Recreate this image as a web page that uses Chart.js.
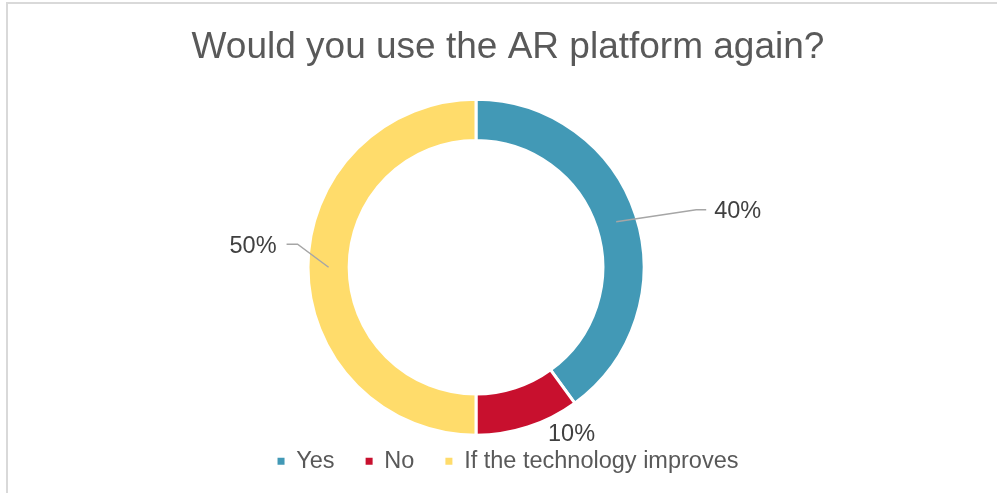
<!DOCTYPE html>
<html>
<head>
<meta charset="utf-8">
<script src="https://cdn.jsdelivr.net/npm/chart.js@4/dist/chart.umd.min.js"></script>
<style>
  html, body { margin: 0; padding: 0; background: #fff; }
  #wrap { position: relative; width: 997px; height: 493px; }
  #frame {
    position: absolute; left: 6px; top: 2px; right: 0; bottom: 0;
    border-top: 2px solid #d9d9d9; border-left: 2px solid #d9d9d9;
    pointer-events: none;
  }
</style>
</head>
<body>
<div id="wrap">
  <canvas id="chart" width="997" height="493"></canvas>
  <div id="frame"></div>
</div>
<script>
const categories = ["Yes", "No", "If the technology improves"];
const shares = [40, 10, 50];
const sliceColors = ["#4299b6", "#c8102e", "#ffdc6b"];

// leader lines: elbow and end relative to the mid-ring point of each slice
const leaders = [
  { elbow: [80, -12], end: [90, -12], align: "left" },
  { elbow: null, end: [50, 25], align: "center" },
  { elbow: [-31, -23], end: [-42, -23], align: "right" }
];

// nudge the ring sideways without moving the title and legend
const shiftArea = {
  id: "shiftArea",
  afterLayout(chart, args, opts) {
    const a = chart.chartArea;
    a.left += opts.dx;
    a.right += opts.dx;
  }
};

const sliceLabels = {
  id: "sliceLabels",
  afterDatasetsDraw(chart) {
    const ctx = chart.ctx;
    const meta = chart.getDatasetMeta(0);
    ctx.save();
    ctx.font = "23.5px 'Liberation Sans', Arial, sans-serif";
    ctx.fillStyle = "#404040";
    ctx.textBaseline = "middle";
    meta.data.forEach((arc, i) => {
      const p = arc.getProps(["x", "y", "startAngle", "endAngle", "innerRadius", "outerRadius"], true);
      const mid = (p.startAngle + p.endAngle) / 2;
      const r = (p.innerRadius + p.outerRadius) / 2;
      const ax = p.x + Math.cos(mid) * r;
      const ay = p.y + Math.sin(mid) * r;
      const L = leaders[i];
      const ex = ax + L.end[0], ey = ay + L.end[1];
      if (L.elbow) {
        ctx.strokeStyle = "#a6a6a6";
        ctx.lineWidth = 1.5;
        ctx.beginPath();
        ctx.moveTo(ax, ay);
        ctx.lineTo(ax + L.elbow[0], ay + L.elbow[1]);
        ctx.lineTo(ex, ey);
        ctx.stroke();
      }
      const text = shares[i] + "%";
      let tx = ex;
      if (L.align === "left") tx = ex + 8;
      if (L.align === "right") tx = ex - 10;
      ctx.textAlign = L.align;
      ctx.fillText(text, tx, ey + 2);
    });
    ctx.restore();
  }
};

// legend squares without the white slice outline
const baseLabels = Chart.overrides.doughnut.plugins.legend.labels.generateLabels;

new Chart(document.getElementById("chart"), {
  type: "doughnut",
  data: {
    labels: categories,
    datasets: [{
      data: shares,
      backgroundColor: sliceColors,
      borderColor: "#ffffff",
      borderWidth: 3,
      radius: 168,
      cutout: "75.5%"
    }]
  },
  options: {
    responsive: false,
    animation: false,
    events: [],
    layout: { padding: { left: 19, right: 0, top: 0, bottom: 10 } },
    plugins: {
      shiftArea: { dx: -32 },
      title: {
        display: true,
        text: "Would you use the AR platform again?",
        color: "#595959",
        font: { family: "'Liberation Sans', Arial, sans-serif", size: 37, weight: "normal", lineHeight: 1.2 },
        padding: { top: 26, bottom: 45.6 }
      },
      legend: {
        position: "bottom",
        labels: {
          color: "#595959",
          font: { family: "'Liberation Sans', Arial, sans-serif", size: 23.5 },
          boxWidth: 7,
          boxHeight: 7,
          padding: 31,
          generateLabels: (chart) => baseLabels(chart).map(item => ({ ...item, lineWidth: 0 }))
        }
      },
      tooltip: { enabled: false }
    }
  },
  plugins: [shiftArea, sliceLabels]
});
</script>
</body>
</html>
